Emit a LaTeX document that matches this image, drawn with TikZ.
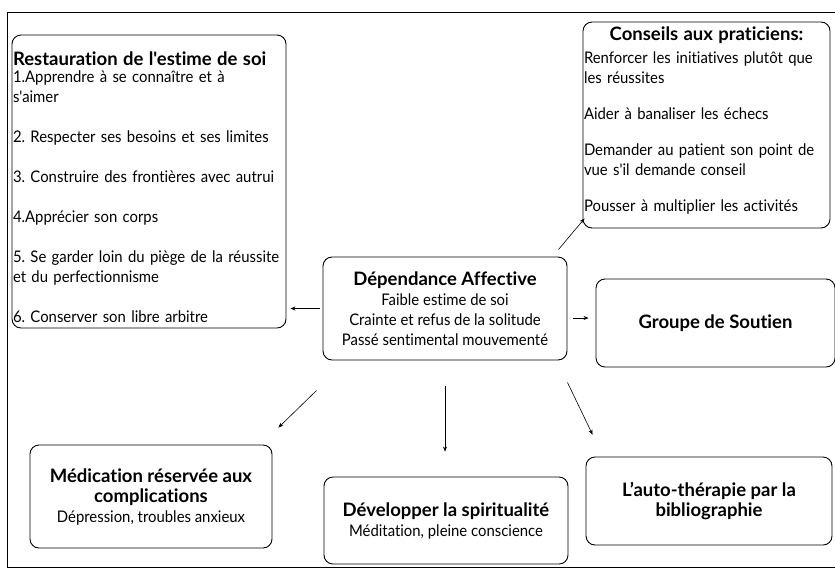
\documentclass[tikz,border=0pt]{standalone}
\usepackage{fontspec}
\newfontfamily\police{Lato}[Ligatures=NoCommon, FakeStretch=0.93, BoldFeatures={FakeStretch=1}]
\usetikzlibrary{arrows.meta}

\newcommand\corps{\police\fontsize{16}{20}\selectfont\frenchspacing\hyphenpenalty=10000 }
\newcommand\titre[1]{{\fontsize{18.5}{20}\selectfont\bfseries #1}}

\tikzset{boite/.style = {draw, rounded corners=9pt, line width=0.9pt,
                         inner xsep=1pt, inner ysep=0pt, font=\corps},
         fleche/.style = {-{Stealth[length=5pt, width=4pt]}, line width=0.6pt},
         cadre/.style = {line width=0.7pt}
        }

\begin{document}
\begin{tikzpicture}[x=1pt, y=-1pt]
  \useasboundingbox (0,0) rectangle (835,571);
  \draw[cadre] (836,12) -- (7,12) -- (7,567) -- (836,567);

  % boites
  \node[boite, minimum width=274pt, minimum height=293pt, text width=272pt, align=left] (resto) at (149,181.5)
    {\rule{0pt}{26pt}\titre{Restauration de l'estime de soi}\\[-3pt]
     1.Apprendre à se connaître et à\\
     s'aimer\\[20pt]
     2. Respecter ses besoins et ses limites\\[20pt]
     3. Construire des frontières avec autrui\\[20pt]
     4.Apprécier son corps\\[20pt]
     5. Se garder loin du piège de la réussite\\
     et du perfectionnisme\\[20pt]
     6. Conserver son libre arbitre};
  \node[boite, minimum width=247pt, minimum height=206pt, text width=245pt, align=left] (conseils) at (706.5,125)
    {\makebox[245pt]{\titre{Conseils aux praticiens:}}\\[3pt]
     Renforcer les initiatives plutôt que\\
     les réussites\\[16pt]
     Aider à banaliser les échecs\\[16pt]
     Demander au patient son point de\\
     vue s'il demande conseil\\[16pt]
     Pousser à multiplier les activités\rule[-12pt]{0pt}{0pt}};
  \node[boite, minimum width=244pt, minimum height=103pt, align=center] (dep) at (445,308.5)
    {\titre{Dépendance Affective}\\ Faible estime de soi\\ Crainte et refus de la solitude\\ Passé sentimental mouvementé};
  \node[boite, minimum width=239pt, minimum height=88pt, align=center] (groupe) at (715.5,323)
    {\titre{Groupe de Soutien}};
  \node[boite, minimum width=242pt, minimum height=103pt, align=center] (medic) at (151,496.5)
    {\titre{Médication réservée aux}\\ \titre{complications}\\ Dépression, troubles anxieux};
  \node[boite, minimum width=244pt, minimum height=87pt, align=center] (spirit) at (446,520.5)
    {\titre{Développer la spiritualité}\\ Méditation, pleine conscience};
  \node[boite, minimum width=246pt, minimum height=88pt, align=center] (auto) at (709,501)
    {\titre{L’auto-thérapie par la}\\ \titre{bibliographie}};

  % fleches
  \draw[fleche, shorten <=3pt, shorten >=4pt] (dep.west) -- (dep.west -| resto.east);
  \draw[fleche, shorten <=6pt, shorten >=7pt] ([yshift=5pt]groupe.west -| dep.east) -- ([yshift=5pt]groupe.west);
  \draw[fleche] ([shift={(-9pt,7pt)}]dep.north east) -- ([shift={(2pt,10pt)}]conseils.south west);
  \draw[fleche] ([shift={(-6pt,-30pt)}]dep.south west) -- ([shift={(6pt,17pt)}]medic.north east);
  \draw[fleche, shorten <=26pt, shorten >=25pt] (dep.south) -- (dep.south |- spirit.north);
  \draw[fleche] ([yshift=-22pt]dep.south east) -- ([shift={(7pt,22pt)}]auto.north west);
\end{tikzpicture}
\end{document}
